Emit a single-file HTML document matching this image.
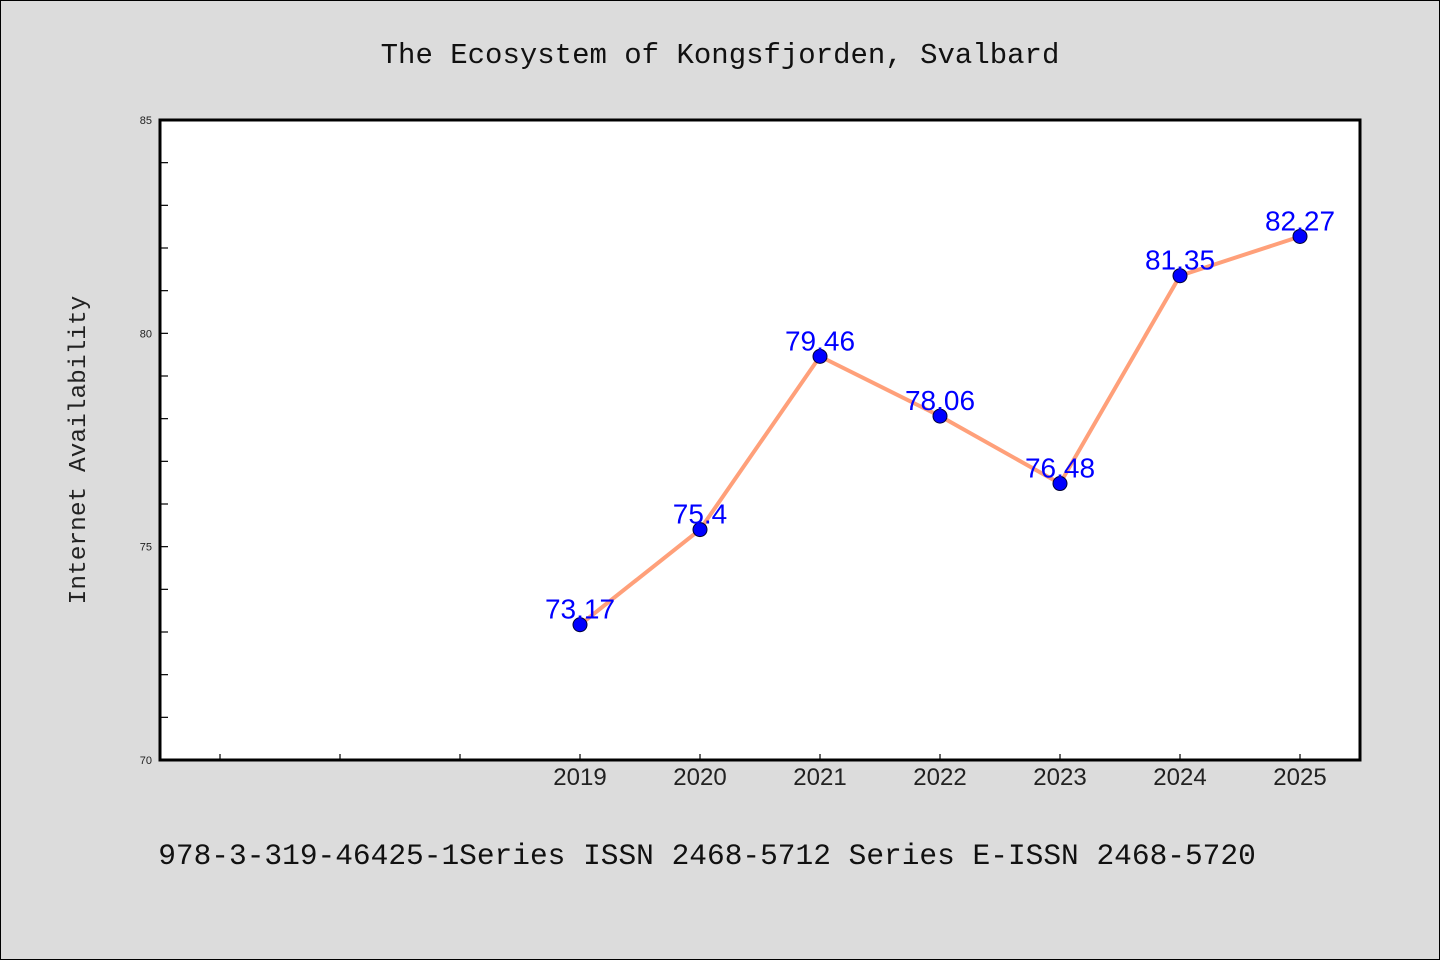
<!DOCTYPE html>
<html><head><meta charset="utf-8"><style>
body{margin:0;background:#dcdcdc;}
svg{display:block}
</style></head><body>
<svg id="chart" width="1440" height="960">
<rect x="0.5" y="0.5" width="1439" height="959" fill="#dcdcdc" stroke="#000" stroke-width="1"/>
<text x="720" y="63" text-anchor="middle" font-family="Liberation Mono, monospace" font-size="29" fill="#111">The Ecosystem of Kongsfjorden, Svalbard</text>
<rect x="160" y="120" width="1200" height="640" fill="#fff"/>
<g id="axes"></g>
<g id="series"></g>
<rect x="160" y="120" width="1200" height="640" fill="none" stroke="#000" stroke-width="3"/>
<text transform="translate(85,450) rotate(-90)" text-anchor="middle" font-family="Liberation Mono, monospace" font-size="24.5" fill="#222">Internet Availability</text>
<text x="707" y="864" text-anchor="middle" font-family="Liberation Mono, monospace" font-size="29.5" fill="#111">978-3-319-46425-1Series ISSN 2468-5712 Series E-ISSN 2468-5720</text>
</svg>
<script>
const categories = [2019, 2020, 2021, 2022, 2023, 2024, 2025];
const values = [73.17, 75.4, 79.46, 78.06, 76.48, 81.35, 82.27];
const valueLabels = ["73.17", "75.4", "79.46", "78.06", "76.48", "81.35", "82.27"];
const yTickLabels = [70, 75, 80, 85];
const xMin = 2015.5, xMax = 2025.5, yMin = 70, yMax = 85;
const L = 160, R = 1360, T = 120, B = 760;
const ns = "http://www.w3.org/2000/svg";
function xs(v){return L + (v - xMin) / (xMax - xMin) * (R - L);}
function ys(v){return B - (v - yMin) / (yMax - yMin) * (B - T);}
function mk(tag, attrs, parent){const e=document.createElementNS(ns,tag);for(const k in attrs)e.setAttribute(k,attrs[k]);parent.appendChild(e);return e;}
const axes = document.getElementById('axes');
const series = document.getElementById('series');
for (let v = yMin + 1; v < yMax; v++) {
  const t = mk('line', {x1:L, x2:L+8, y1:ys(v), y2:ys(v), stroke:'#000', 'stroke-width':1.2}, axes);
  
  
}
yTickLabels.forEach(v => {
  const t = mk('text', {x:152, y:ys(v)+4, 'text-anchor':'end', 'font-family':'Liberation Sans, sans-serif', 'font-size':11, fill:'#222'}, axes);
  t.textContent = v;
  
  
});
for (let v = Math.ceil(xMin); v <= xMax; v++) {
  const t = mk('line', {x1:xs(v), x2:xs(v), y1:B, y2:B-6, stroke:'#000', 'stroke-width':1.2}, axes);
  
  
}
categories.forEach(c => {
  const t = mk('text', {x:xs(c), y:785, 'text-anchor':'middle', 'font-family':'Liberation Sans, sans-serif', 'font-size':24, fill:'#222'}, axes);
  t.textContent = c;
  
  
});
const line = mk('polyline', {points: categories.map((c,i)=>xs(c)+','+ys(values[i])).join(' '), fill:'none', stroke:'#ffa07a', 'stroke-width':4, 'stroke-linejoin':'round'}, series);


categories.forEach((c,i) => {
  const p = mk('circle', {cx:xs(c), cy:ys(values[i]), r:7, fill:'#0000ff', stroke:'#000033', 'stroke-width':1}, series);
  
  
});
categories.forEach((c,i) => {
  const t = mk('text', {x:xs(c), y:ys(values[i])-6, 'text-anchor':'middle', 'font-family':'Liberation Sans, sans-serif', 'font-size':28, fill:'#0000ff'}, series);
  t.textContent = valueLabels[i];
  
  
});
</script>
</body></html>
